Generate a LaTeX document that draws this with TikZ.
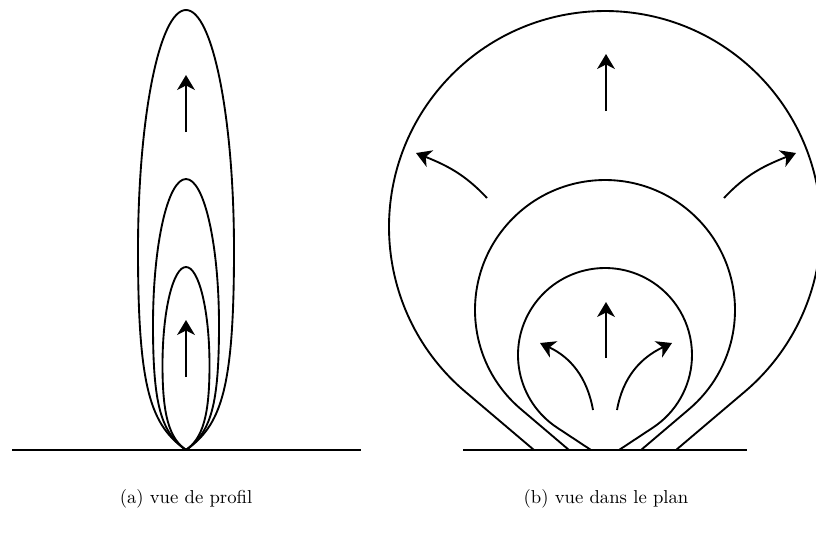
\documentclass[tikz,border=0pt]{standalone}
\usepackage{tikz}
\usetikzlibrary{arrows.meta}
\tikzset{
  >={Stealth[length=8pt,width=9.5pt,inset=2.4pt]},
  lobe/.style={line width=1pt,line join=round},
  sol/.style={line width=1pt},
  arr/.style={->,line width=1pt},
  lab/.style={font=\normalsize,anchor=base},
}
\begin{document}
\begin{tikzpicture}[x=0.535pt,y=0.535pt]
\useasboundingbox (0,0) rectangle (816,538);
% (a) side view
\begin{scope}[shift={(186,88)}]
\draw[sol] (-174,0) -- (175,0);
\foreach \w/\m/\t/\a/\b/\c in {48/200/440/35/25/60,33/125/271/25/18/45,23.5/85/183/17/12/35} {
  \draw[lobe] (0,0) .. controls (-\a,\b) and (-\w,\c) .. (-\w,\m)
    .. controls (-\w,{\m+0.552*(\t-\m)}) and ({-0.552*\w},\t) .. (0,\t)
    .. controls ({0.552*\w},\t) and (\w,{\m+0.552*(\t-\m)}) .. (\w,\m)
    .. controls (\w,\c) and (\a,\b) .. (0,0);
}
\draw[arr] (0,73) -- (0,130);
\draw[arr] (0,318) -- (0,375);
\node[lab] (capa) at (0,-53) {(a) vue de profil};
\end{scope}
% (b) top view: circles closed by tangents to the ground
\begin{scope}[shift={(605,88)}]
\draw[sol] (-142,0) -- (142,0);
\foreach \e/\c/\r in {71/223/216,36/140/130,14/95/87} {
  \pgfmathsetmacro\dist{veclen(\e,\c)}
  \pgfmathsetmacro\ang{atan2(\c,\e)+asin(\r/\dist)}
  \pgfmathsetmacro\len{sqrt((\dist-\r)*(\dist+\r))}
  \draw[lobe] (-\e,0) -- ++(\ang:\len)
    arc[start angle=\ang+90,end angle=90-\ang,radius=\r] -- (\e,0);
}
\draw[arr] (1,339) -- (1,396);
\draw[arr] (-118,252) to[out=133,in=-22] (-189,297);
\draw[arr] (119,252) to[out=47,in=202] (191,297);
\draw[arr] (1,92) -- (1,148);
\draw[arr] (-12,40) to[out=100,in=-25] (-65,107);
\draw[arr] (12,40) to[out=80,in=205] (67,107);
\node[lab] (capb) at (1,-53) {(b) vue dans le plan};
\end{scope}
\end{tikzpicture}
\end{document}
